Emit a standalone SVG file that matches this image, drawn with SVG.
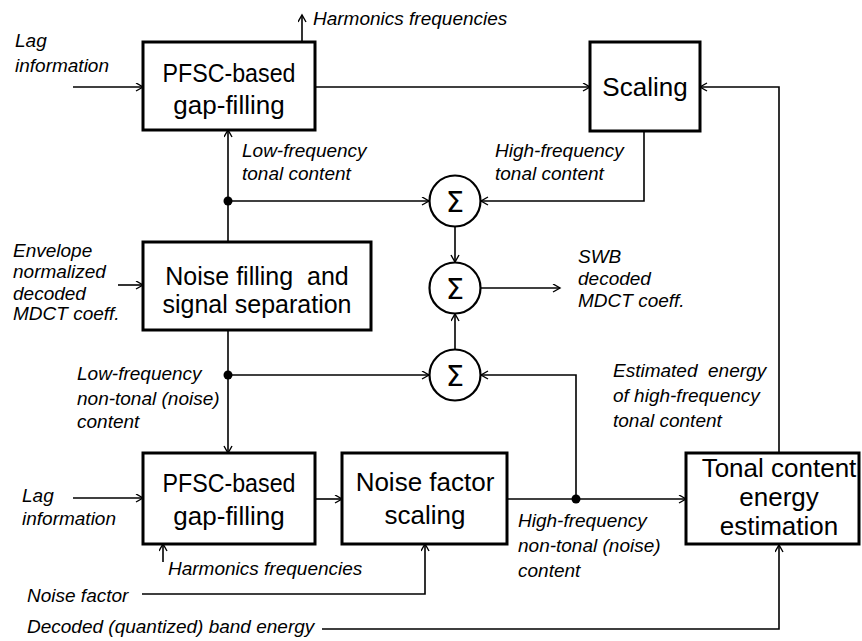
<svg xmlns="http://www.w3.org/2000/svg" width="862" height="641" viewBox="0 0 862 641">
<defs>
<marker id="arr" markerUnits="userSpaceOnUse" markerWidth="10" markerHeight="10" refX="8" refY="4.5" orient="auto">
<path d="M1,0.5 L8,4.5 L1,8.5" fill="none" stroke="#000" stroke-width="1.4"/>
</marker>
<style>
.box{fill:#fff;stroke:#000;stroke-width:3}
.sum{fill:#fff;stroke:#000;stroke-width:2.2}
.bt{font-family:"Liberation Sans",Arial,sans-serif;font-size:26px;text-anchor:middle;fill:#000}
.bt2{font-family:"Liberation Sans",Arial,sans-serif;font-size:25px;text-anchor:middle;fill:#000}
.lb{font-family:"Liberation Sans",Arial,sans-serif;font-size:19px;font-style:italic;fill:#000}
.sg{font-family:"DejaVu Sans",sans-serif;font-size:29px;text-anchor:middle;fill:#000}
.c{fill:none;stroke:#000;stroke-width:1.6}
.ca{fill:none;stroke:#000;stroke-width:1.6;marker-end:url(#arr)}
</style>
</defs>
<rect width="862" height="641" fill="#fff"/>
<g id="connectors">
<path class="ca" d="M73,87 H143"/>
<path class="ca" d="M302,42 V15"/>
<path class="ca" d="M315,87 H590"/>
<path class="ca" d="M779,453 V87 H700"/>
<path class="ca" d="M644,131 V201 H481"/>
<path class="ca" d="M228,242 V130"/>
<path class="ca" d="M228,201 H429"/>
<path class="ca" d="M455,227 V262"/>
<path class="ca" d="M481,288 H560"/>
<path class="ca" d="M455,350 V314"/>
<path class="ca" d="M118,285 H143"/>
<path class="ca" d="M228,330 V453"/>
<path class="ca" d="M228,375 H429"/>
<path class="ca" d="M73,498 H143"/>
<path class="ca" d="M163,562 V544"/>
<path class="ca" d="M315,499 H342"/>
<path class="ca" d="M142,594 H425 V544"/>
<path class="ca" d="M507,499 H686"/>
<path class="ca" d="M576,499 V375 H481"/>
<path class="ca" d="M322,629 H779 V545"/>
<circle cx="228" cy="201" r="4.5"/>
<circle cx="228" cy="375" r="4.5"/>
<circle cx="576" cy="499" r="4.5"/>
</g>
<g id="pfsc-top">
<rect class="box" x="143" y="42" width="172" height="88"/>
<text class="bt" x="229" y="82" textLength="133" lengthAdjust="spacingAndGlyphs">PFSC-based</text>
<text class="bt" x="229" y="114">gap-filling</text>
</g>
<g id="scaling">
<rect class="box" x="590" y="42" width="110" height="89"/>
<text class="bt" x="645" y="96">Scaling</text>
</g>
<g id="noise-filling">
<rect class="box" x="143" y="242" width="228" height="88"/>
<text class="bt2" x="257" y="285" xml:space="preserve">Noise filling  and</text>
<text class="bt2" x="257" y="313">signal separation</text>
</g>
<g id="pfsc-bottom">
<rect class="box" x="143" y="453" width="172" height="91"/>
<text class="bt" x="229" y="492" textLength="133" lengthAdjust="spacingAndGlyphs">PFSC-based</text>
<text class="bt" x="229" y="525">gap-filling</text>
</g>
<g id="noise-factor-scaling">
<rect class="box" x="342" y="453" width="165" height="91"/>
<text class="bt" x="425" y="491">Noise factor</text>
<text class="bt" x="425" y="524">scaling</text>
</g>
<g id="tonal-energy">
<rect class="box" x="686" y="453" width="173" height="91"/>
<text class="bt" x="779" y="477">Tonal content</text>
<text class="bt" x="779" y="506">energy</text>
<text class="bt" x="779" y="535">estimation</text>
</g>
<g id="sum1">
<circle class="sum" cx="455" cy="201" r="25.5"/>
<text class="sg" x="455" y="212">Σ</text>
</g>
<g id="sum2">
<circle class="sum" cx="455" cy="288" r="25.5"/>
<text class="sg" x="455" y="299">Σ</text>
</g>
<g id="sum3">
<circle class="sum" cx="455" cy="375" r="25.5"/>
<text class="sg" x="455" y="386">Σ</text>
</g>
<g id="labels">
<text class="lb" x="313" y="25">Harmonics frequencies</text>
<text class="lb" x="15" y="47">Lag</text>
<text class="lb" x="15" y="72">information</text>
<text class="lb" x="242" y="157">Low-frequency</text>
<text class="lb" x="242" y="180">tonal content</text>
<text class="lb" x="495" y="157">High-frequency</text>
<text class="lb" x="495" y="180">tonal content</text>
<text class="lb" x="13" y="257">Envelope</text>
<text class="lb" x="13" y="278">normalized</text>
<text class="lb" x="13" y="300">decoded</text>
<text class="lb" x="13" y="320">MDCT coeff.</text>
<text class="lb" x="578" y="263">SWB</text>
<text class="lb" x="578" y="285">decoded</text>
<text class="lb" x="578" y="307">MDCT coeff.</text>
<text class="lb" x="77" y="380">Low-frequency</text>
<text class="lb" x="77" y="405">non-tonal (noise)</text>
<text class="lb" x="77" y="428">content</text>
<text class="lb" x="613" y="377" xml:space="preserve">Estimated  energy</text>
<text class="lb" x="613" y="402">of high-frequency</text>
<text class="lb" x="613" y="427">tonal content</text>
<text class="lb" x="22" y="502">Lag</text>
<text class="lb" x="22" y="525">information</text>
<text class="lb" x="168" y="575">Harmonics frequencies</text>
<text class="lb" x="518" y="527">High-frequency</text>
<text class="lb" x="518" y="552">non-tonal (noise)</text>
<text class="lb" x="518" y="577">content</text>
<text class="lb" x="27" y="602">Noise factor</text>
<text class="lb" x="27" y="633">Decoded (quantized) band energy</text>
</g>
</svg>
